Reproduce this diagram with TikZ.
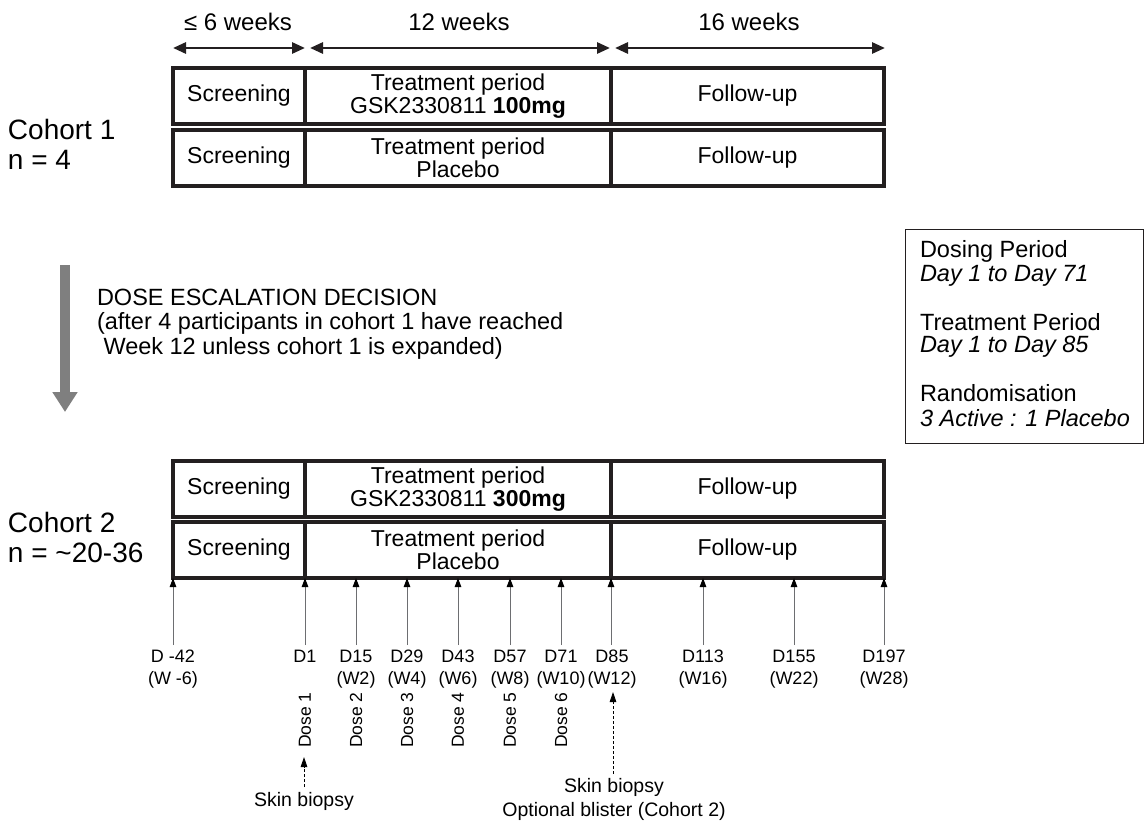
\documentclass[tikz,border=0pt]{standalone}
\usepackage{fontspec}
\setmainfont{Liberation Sans}
\usetikzlibrary{arrows.meta}
\definecolor{boxline}{HTML}{231F20}
\definecolor{tickgray}{HTML}{6D6E71}
\definecolor{escgray}{HTML}{7F7F7F}
\begin{document}
\begin{tikzpicture}[x=1pt,y=-1pt,
  every node/.style={font=\fontsize{23}{23}\selectfont, inner sep=0pt, outer sep=0pt},
  cell/.style={draw=boxline, line width=4pt, align=center, minimum height=56pt},
  span/.style={line width=2.8pt, boxline, {Triangle[length=13pt,width=11pt]}-{Triangle[length=13pt,width=11pt]}},
  wk/.style={font=\fontsize{24}{24}\selectfont},
  tick/.style={line width=1pt, tickgray, -{Triangle[length=9pt,width=6.5pt,color=black]}},
  dashy/.style={line width=0.8pt, black, dash pattern=on 3pt off 2pt, -{Triangle[length=10pt,width=6.5pt]}},
  cohort/.style={font=\fontsize{28}{30}\selectfont, anchor=west},
  lbl/.style={align=center, anchor=north, font=\fontsize{18}{22}\selectfont},
  dose/.style={rotate=90, font=\fontsize{17.5}{20}\selectfont},
  side/.style={anchor=west, font=\fontsize{23.5}{24}\selectfont},
  bio/.style={align=center, font=\fontsize{19.5}{24}\selectfont}
]
\useasboundingbox (0,0) rectangle (1145,821);

% ---- duration spans
\coordinate (s1a) at (173,48); \coordinate (s1b) at (305,48);
\coordinate (s2a) at (310,48); \coordinate (s2b) at (610,48);
\coordinate (s3a) at (615,48); \coordinate (s3b) at (885,48);
\draw[span] (s1a) -- (s1b);
\draw[span] (s2a) -- (s2b);
\draw[span] (s3a) -- (s3b);
\node[wk] (w1) at (238,22) {≤ 6 weeks};
\node[wk] (w2) at (459,22) {12 weeks};
\node[wk] (w3) at (749,22) {16 weeks};

% ---- cohort 1
\node[cell, minimum width=132pt] (c1s1) at (239,96) {Screening};
\node[cell, minimum width=306pt] (c1t1) at (458,96) {Treatment period\\GSK2330811 \textbf{100mg}};
\node[cell, minimum width=273pt] (c1f1) at (747.5,96) {Follow-up};
\node[cell, minimum width=132pt] (c1s2) at (239,158) {Screening};
\node[cell, minimum width=306pt] (c1t2) at (458,158) {Treatment period\\Placebo};
\node[cell, minimum width=273pt] (c1f2) at (747.5,158) {Follow-up};
\node[cohort] (coh1) at (8,129) {Cohort 1};
\node[cohort] (n1) at (8,160) {n = 4};

% ---- escalation
\coordinate (esctop) at (65,265); \coordinate (escbot) at (65,412);
\draw[escgray, line width=10pt, -{Triangle[length=20pt,width=24pt]}] (esctop) -- (escbot);
\node[anchor=west, align=left, font=\fontsize{23.5}{24.5}\selectfont] (esc) at (97,324)
  {DOSE ESCALATION DECISION\\(after 4 participants in cohort 1 have reached\\\ Week 12 unless cohort 1 is expanded)};

% ---- side box
\node[draw=boxline, line width=1pt, minimum width=238pt, minimum height=214pt] (side) at (1024,336) {};
\node[side] (sa) at (920,251) {Dosing Period};
\node[side] (sb) at (920,276) {\itshape Day 1 to Day 71};
\node[side] (sc) at (920,322) {Treatment Period};
\node[side] (sd) at (920,347) {\itshape Day 1 to Day 85};
\node[side] (se) at (920,393) {Randomisation};
\node[side] (sf) at (920,418) {\itshape 3 Active : 1 Placebo};

% ---- cohort 2
\node[cell, minimum width=132pt] (c2s1) at (239,489) {Screening};
\node[cell, minimum width=306pt] (c2t1) at (458,489) {Treatment period\\GSK2330811 \textbf{300mg}};
\node[cell, minimum width=273pt] (c2f1) at (747.5,489) {Follow-up};
\node[cell, minimum width=132pt] (c2s2) at (239,550) {Screening};
\node[cell, minimum width=306pt] (c2t2) at (458,550) {Treatment period\\Placebo};
\node[cell, minimum width=273pt] (c2f2) at (747.5,550) {Follow-up};
\node[cohort] (coh2) at (8,522) {Cohort 2};
\node[cohort] (n2) at (8,553) {n = \textasciitilde 20-36};

% ---- visit ticks
\foreach \nm/\x/\lx/\t in {a/173/173/{D -42\\(W -6)}, b/305/305/{D1}, c/356/356/{D15\\(W2)},
   d/407/407/{D29\\(W4)}, e/458/458/{D43\\(W6)}, f/510/510/{D57\\(W8)}, g/561/561/{D71\\(W10)},
   h/611/612/{D85\\(W12)}, i/703/703/{D113\\(W16)}, j/794/794/{D155\\(W22)}, k/884/884/{D197\\(W28)}}{
  \coordinate (tb\nm) at (\x,645);
  \coordinate (tt\nm) at (\x,578);
  \draw[tick] (tb\nm) -- (tt\nm);
  \node[lbl] (v\nm) at (\lx,650) {\t};
}

% ---- doses
\node[dose] (d1) at (305,720) {Dose 1};
\node[dose] (d2) at (356,720) {Dose 2};
\node[dose] (d3) at (407,720) {Dose 3};
\node[dose] (d4) at (458,720) {Dose 4};
\node[dose] (d5) at (510,720) {Dose 5};
\node[dose] (d6) at (561,720) {Dose 6};

% ---- skin biopsies
\node[bio] (sk1) at (304,801) {Skin biopsy};
\coordinate (sk1a) at (304,787);
\coordinate (sk1b) at (304,757);
\draw[dashy] (sk1a) -- (sk1b);
\node[bio] (sk2) at (614,799) {Skin biopsy\\Optional blister (Cohort 2)};
\coordinate (sk2a) at (613,774);
\coordinate (sk2b) at (613,692);
\draw[dashy] (sk2a) -- (sk2b);
\end{tikzpicture}
\end{document}
